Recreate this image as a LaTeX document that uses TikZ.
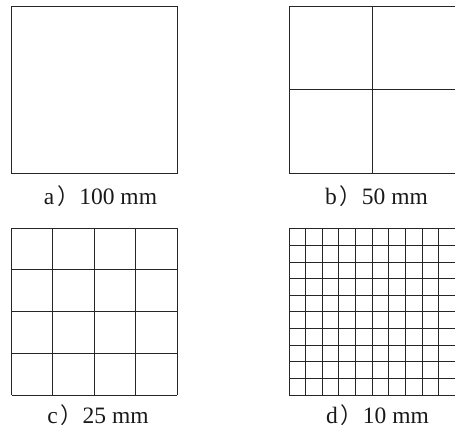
\documentclass[tikz,border=0pt]{standalone}
\usepackage{fontspec}
\setmainfont{Liberation Serif}
\newfontfamily\cjk{Noto Sans CJK SC}
\newcommand{\fwparen}{\kern3pt{\cjk\fontsize{22}{28}\selectfont ）}}
\begin{document}
\begin{tikzpicture}[x=1pt,y=-1pt,
  gridline/.style={line width=1pt,draw=black!85},
  sublabel/.style={anchor=base,inner sep=0pt,font=\fontsize{23.5}{28}\selectfont,text=black!90}]
\useasboundingbox (0,0) rectangle (455,432);
% a
\draw[gridline] (11.5,6.5) rectangle (177,173);
% b
\draw[gridline] (289,6.5) rectangle (455.5,173);
\draw[gridline] (372.3,6.5) -- (372.3,173);
\draw[gridline] (289,89.8) -- (455.5,89.8);
% c
\foreach \i in {0,...,4} {
  \draw[gridline] (11.5+41.375*\i,228) -- (11.5+41.375*\i,395);
  \draw[gridline] (11.5,228+41.75*\i) -- (177,228+41.75*\i);
}
% d
\foreach \i in {0,...,10} {
  \draw[gridline] (289+16.65*\i,228.8) -- (289+16.65*\i,395);
  \draw[gridline] (289,228.8+16.62*\i) -- (455.5,228.8+16.62*\i);
}
\node[sublabel] (la) at (100.5,204) {a\fwparen 100 mm};
\node[sublabel] (lb) at (376.5,204) {b\fwparen 50 mm};
\node[sublabel] (lc) at (98,423) {c\fwparen 25 mm};
\node[sublabel] (ld) at (377.5,423) {d\fwparen 10 mm};
\end{tikzpicture}
\end{document}
